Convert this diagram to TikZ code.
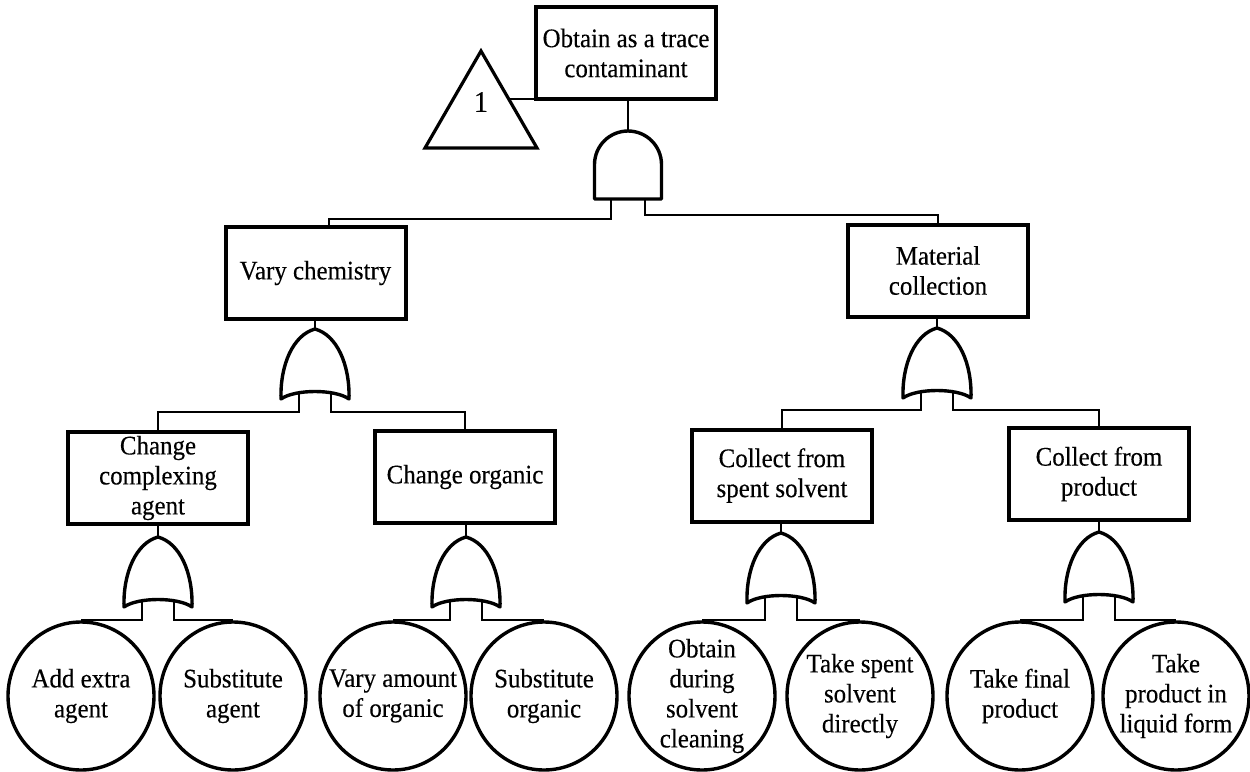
\documentclass[tikz,border=0pt]{standalone}
\usepackage{fontspec}
\setmainfont{Liberation Serif}[FakeStretch=0.93,FakeBold=0.3]
\usetikzlibrary{shapes.geometric}
\begin{document}
\begin{tikzpicture}[x=0.5pt,y=-0.5pt,
  every node/.style={font=\fontsize{13.4pt}{15pt}\selectfont, align=center},
  box/.style={draw, line width=2pt, minimum width=90pt, minimum height=46pt, inner sep=2pt},
  evt/.style={draw, ellipse, line width=1.7pt, minimum width=73pt, minimum height=74pt, inner sep=0pt},
  tribox/.style={draw, regular polygon, regular polygon sides=3, line width=1.6pt,
    minimum size=64.7pt, inner sep=0pt},
  conn/.style={line width=1pt},
  gateline/.style={line width=1.7pt, line join=round},
  orgate/.pic={
    \draw[gateline] (0,0) .. controls (-22,6) and (-35,36) .. (-34,70)
       .. controls (-20,60) and (20,60) .. (34,70)
       .. controls (35,36) and (22,6) .. (0,0) -- cycle;
    \coordinate (-in) at (0,0);
    \coordinate (-l) at (-16,63.5);
    \coordinate (-r) at (16,63.5);
  },
  andgate/.pic={
    \draw[gateline] (-33.5,68) -- (-33.5,33.5)
       .. controls (-33.5,15) and (-18.5,0) .. (0,0)
       .. controls (18.5,0) and (33.5,15) .. (33.5,33.5)
       -- (33.5,68) -- cycle;
    \coordinate (-in) at (0,0);
    \coordinate (-l) at (-17,68);
    \coordinate (-r) at (17,68);
  }
]
\fill[white] (0,0) rectangle (1250,772);
\useasboundingbox (0,0) rectangle (1250,772);

% top event and transfer triangle
\node[box] (top) at (626,53) {Obtain as a trace\\contaminant};
\node[tribox] (tri) at (481,115.7) {};
\node[font=\fontsize{15pt}{15pt}\selectfont] (one) at (481,102) {1};
\draw[conn] (tri.side 3) -- (tri.side 3 -| top.west);

% intermediate events
\node[box] (vary) at (315.5,273) {Vary chemistry};
\node[box] (mat) at (938,270.5) {Material\\collection};
\node[box] (cca) at (158,478) {Change\\complexing\\agent};
\node[box] (co) at (465,477) {Change organic};
\node[box] (cs) at (782,475.5) {Collect from\\spent solvent};
\node[box] (cp) at (1099,474) {Collect from\\product};

% basic events
\node[evt, label={center:Add extra\\agent}] (e1) at (81,696) {};
\node[evt, label={center:Substitute\\agent}] (e2) at (233,696) {};
\node[evt, label={center:Vary amount\\of organic}] (e3) at (393,696) {};
\node[evt, label={center:Substitute\\organic}] (e4) at (544,696) {};
\node[evt, label={center:Obtain\\during\\solvent\\cleaning}] (e5) at (702,696) {};
\node[evt, label={center:Take spent\\solvent\\directly}] (e6) at (860,696) {};
\node[evt, label={center:Take final\\product}] (e7) at (1020,696) {};
\node[evt, label={center:Take\\product in\\liquid form}] (e8) at (1176,696) {};

% gates
\pic (g0) at (628,131) {andgate};
\pic (gv) at (315,329) {orgate};
\pic (gm) at (937,328) {orgate};
\pic (gcca) at (158,537) {orgate};
\pic (gco) at (466,537) {orgate};
\pic (gcs) at (781,533) {orgate};
\pic (gcp) at (1099,532) {orgate};

% connectors
\draw[conn] (top.south -| g0-in) -- (g0-in);
\draw[conn] (g0-l) -- ++(0,20) -| ([xshift=6.5pt]vary.north);
\draw[conn] (g0-r) -- ++(0,16) -| (mat.north);

\draw[conn] (gv-in |- vary.south) -- (gv-in);
\draw[conn] (gv-l) -- ++(0,19.5) -| (cca.north);
\draw[conn] (gv-r) -- ++(0,19.5) -| (co.north);

\draw[conn] (gm-in |- mat.south) -- (gm-in);
\draw[conn] (gm-l) -- ++(0,18.5) -| (cs.north);
\draw[conn] (gm-r) -- ++(0,18.5) -| (cp.north);

\draw[conn] (gcca-in |- cca.south) -- (gcca-in);
\draw[conn] (gco-in |- co.south) -- (gco-in);
\draw[conn] (gcs-in |- cs.south) -- (gcs-in);
\draw[conn] (gcp-in |- cp.south) -- (gcp-in);

\draw[conn] (gcca-l) |- (e1.north);
\draw[conn] (gcca-r) |- (e2.north);
\draw[conn] (gco-l) |- (e3.north);
\draw[conn] (gco-r) |- (e4.north);
\draw[conn] (gcs-l) |- (e5.north);
\draw[conn] (gcs-r) |- (e6.north);
\draw[conn] (gcp-l) |- (e7.north);
\draw[conn] (gcp-r) |- (e8.north);
\end{tikzpicture}
\end{document}
